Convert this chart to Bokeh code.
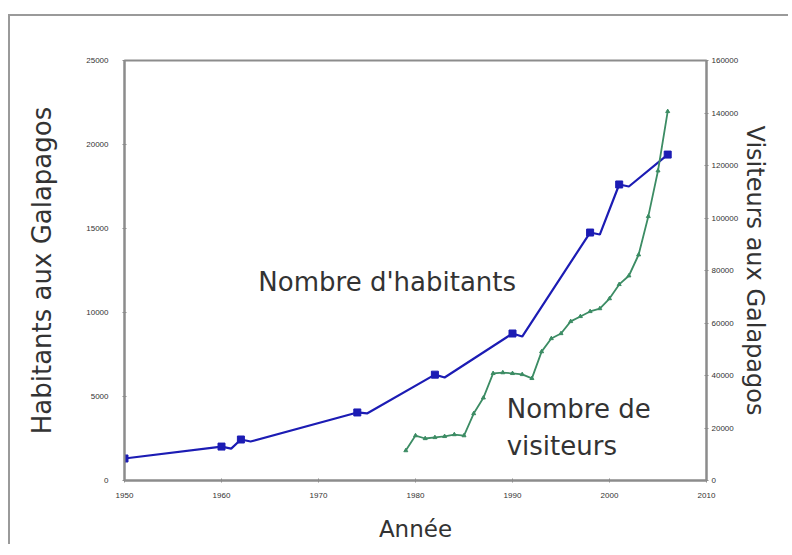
from bokeh.plotting import figure
from bokeh.models import Range1d, LinearAxis, FixedTicker, NumeralTickFormatter, Label
from bokeh.embed import file_html
from bokeh.resources import INLINE

# Inhabitants (census years, marked) and line path (with small kinks after markers)
hab_years = [1950, 1960, 1962, 1974, 1982, 1990, 1998, 2001, 2006]
hab_values = [1310, 2020, 2440, 4050, 6300, 8750, 14760, 17620, 19400]
hab_line_years = [1950, 1960, 1961, 1962, 1963, 1974, 1975, 1982, 1983, 1990, 1991, 1998, 1999, 2001, 2002, 2006]
hab_line_values = [1310, 2020, 1900, 2440, 2320, 4050, 3990, 6300, 6130, 8750, 8570, 14760, 14640, 17620, 17500, 19400]

# Visitors
vis_years = [1979, 1980, 1981, 1982, 1983, 1984, 1985, 1986, 1987, 1988, 1989, 1990, 1991, 1992,
             1993, 1994, 1995, 1996, 1997, 1998, 1999, 2000, 2001, 2002, 2003, 2004, 2005, 2006]
vis_values = [11400, 17100, 16000, 16400, 16800, 17500, 17100, 25500, 31500, 40800, 41100, 40800, 40400, 38900,
              49100, 54100, 56000, 60600, 62500, 64400, 65500, 69300, 74700, 78000, 86000, 100600, 118000, 140600]

x_ticks = [1950, 1960, 1970, 1980, 1990, 2000, 2010]
left_ticks = [0, 5000, 10000, 15000, 20000, 25000]
right_ticks = [0, 20000, 40000, 60000, 80000, 100000, 120000, 140000, 160000]

FONT = "DejaVu Sans"
AXIS_GRAY = "#8c8c8c"

p = figure(width=780, height=530, output_backend="svg", toolbar_location=None,
           x_range=Range1d(1950, 2010), y_range=Range1d(0, 25000),
           min_border_left=114, min_border_right=84, min_border_top=44, min_border_bottom=66)
p.margin = (14, 0, 0, 8)
p.styles = {"border-left": "2px solid #9a9a9a", "border-top": "2px solid #9a9a9a"}
p.background_fill_color = "white"
p.border_fill_color = "white"
p.outline_line_color = AXIS_GRAY
p.outline_line_width = 2
p.xgrid.visible = False
p.ygrid.visible = False

p.extra_y_ranges = {"vis": Range1d(0, 160000)}

def style_axis(ax):
    ax.axis_line_color = AXIS_GRAY
    ax.axis_line_width = 2
    ax.major_tick_line_color = AXIS_GRAY
    ax.major_tick_in = 2
    ax.major_tick_out = 2
    ax.minor_tick_line_color = None
    ax.major_label_text_font = "Liberation Sans"
    ax.major_label_text_font_size = "8px"
    ax.major_label_text_color = "#333333"
    ax.axis_label_text_font = FONT
    ax.axis_label_text_font_style = "normal"
    ax.axis_label_text_color = "#333333"
    ax.formatter = NumeralTickFormatter(format="0")

xa = p.xaxis[0]
style_axis(xa)
xa.ticker = FixedTicker(ticks=x_ticks)
xa.axis_label = "Année"
xa.axis_label_text_font_size = "23px"
xa.axis_label_standoff = 15
xa.major_label_standoff = 10

ya = p.yaxis[0]
style_axis(ya)
ya.ticker = FixedTicker(ticks=left_ticks)
ya.axis_label = "Habitants aux Galapagos"
ya.axis_label_text_font_size = "26px"
ya.axis_label_standoff = 26
ya.major_label_standoff = 14

ra = LinearAxis(y_range_name="vis")
style_axis(ra)
ra.ticker = FixedTicker(ticks=right_ticks)
ra.axis_label = "Visiteurs aux Galapagos"
ra.axis_label_text_font_size = "24px"
ra.axis_label_standoff = 0
ra.major_label_standoff = 3
p.add_layout(ra, "right")

BLUE = "#1c1cb4"
GREEN = "#3c8c64"

p.line(hab_line_years, hab_line_values, line_color=BLUE, line_width=2.2)
p.scatter(hab_years, hab_values, marker="square", size=7, color=BLUE)

p.line(vis_years, vis_values, line_color=GREEN, line_width=1.8, y_range_name="vis")
p.scatter(vis_years, vis_values, marker="triangle", size=4, color=GREEN, y_range_name="vis")

for txt, x, y in [("Nombre d'habitants", 1963.8, 11790),
                  ("Nombre de", 1989.4, 4230),
                  ("visiteurs", 1989.4, 2080)]:
    p.add_layout(Label(x=x, y=y, text=txt, text_font=FONT, text_font_size="26px",
                       text_color="#333333", text_baseline="middle", text_align="left"))

open("out.html", "w").write(file_html(p, INLINE))
